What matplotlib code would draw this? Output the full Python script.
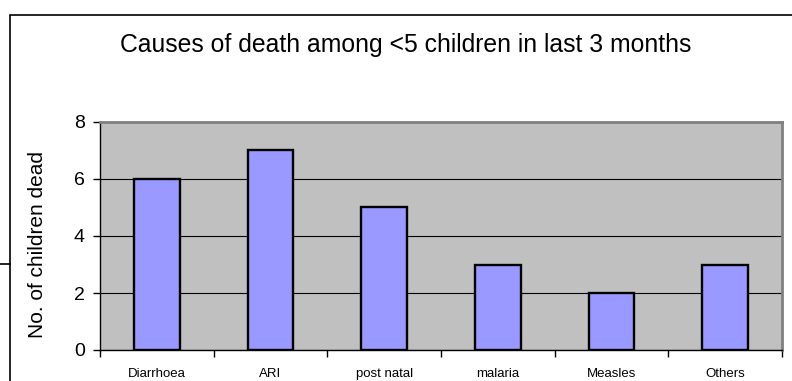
import numpy as np
import matplotlib
matplotlib.use("Agg")
import matplotlib.pyplot as plt
from matplotlib.lines import Line2D
from matplotlib.patches import Rectangle

causes = ["Diarrhoea", "ARI", "post natal", "malaria", "Measles", "Others"]
deaths = [6, 7, 5, 3, 2, 3]
yticks = [0, 2, 4, 6, 8]

plt.rcParams['font.family'] = ['Liberation Sans', 'DejaVu Sans']

W, H = 792, 381
fig = plt.figure(figsize=(W / 100, H / 100), dpi=100)

# chart frame (runs off the right and bottom edges)
fig.add_artist(Rectangle((10 / W, -0.05), 1.0, 1 - 15 / H + 0.05, transform=fig.transFigure,
                         fill=False, edgecolor='black', linewidth=1.2))
fig.add_artist(Line2D([0, 10 / W], [1 - 264 / H, 1 - 264 / H], transform=fig.transFigure,
                      color='black', linewidth=1.2))

left, right, top, bottom = 100, 782, 122, 350
ax = fig.add_axes([left / W, 1 - bottom / H, (right - left) / W, (bottom - top) / H])
ax.set_facecolor('#C0C0C0')

x = np.arange(len(causes))
ax.bar(x, deaths, width=0.4, color='#9999FF', edgecolor='black', linewidth=1.7, zorder=3)

ax.set_xlim(-0.5, len(causes) - 0.5)
ax.set_ylim(0, 8)
ax.set_yticks(yticks)
ax.set_yticklabels([str(v) for v in yticks], fontsize=14)
ax.yaxis.grid(True, color='black', linewidth=0.8, zorder=1)
ax.set_axisbelow(True)

ax.set_xticks(x)
ax.set_xticklabels(causes, fontsize=9.5)
ax.tick_params(axis='x', length=0, pad=13)
ax.set_xticks(np.arange(len(causes) + 1) - 0.5, minor=True)
ax.tick_params(axis='x', which='minor', length=5, direction='out', width=1)
ax.tick_params(axis='y', length=5, direction='out', width=1, pad=6)

for side in ['top', 'right']:
    ax.spines[side].set_color('#808080')
    ax.spines[side].set_linewidth(2)
for side in ['left', 'bottom']:
    ax.spines[side].set_color('black')
    ax.spines[side].set_linewidth(1)

fig.text(38 / W, 1 - 245 / H, "No. of children dead", rotation=90,
         ha='center', va='center', fontsize=15)
fig.text(406 / W, 1 - 52 / H, "Causes of death among <5 children in last 3 months",
         ha='center', va='baseline', fontsize=17.8)

fig.savefig("out.png", dpi=100)
